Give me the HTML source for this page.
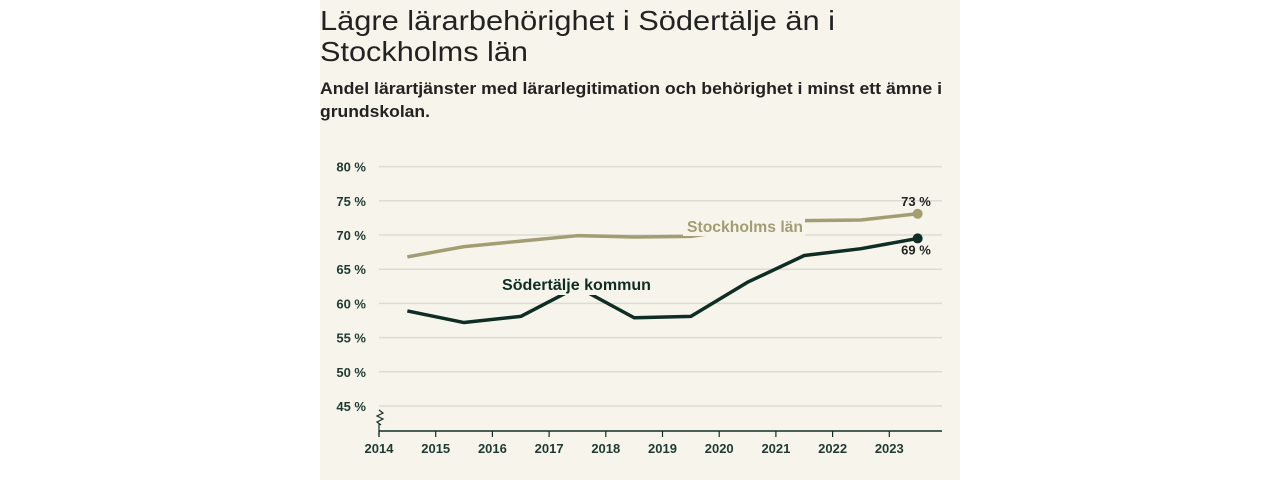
<!DOCTYPE html>
<html><head><meta charset="utf-8">
<style>
body{margin:0;background:#fff;width:1280px;height:480px;overflow:hidden}
svg{display:block}
text{font-family:"Liberation Sans",sans-serif}
</style></head>
<body>
<svg width="1280" height="480">
<rect x="320" y="0" width="640" height="480" fill="#f7f5eb"/>
<text x="320" y="30" font-size="28" fill="#222" textLength="515" lengthAdjust="spacingAndGlyphs">Lägre lärarbehörighet i Södertälje än i</text>
<text x="320" y="61" font-size="28" fill="#222" textLength="208" lengthAdjust="spacingAndGlyphs">Stockholms län</text>
<text x="320" y="94" font-size="17" font-weight="bold" fill="#222" textLength="622" lengthAdjust="spacingAndGlyphs">Andel lärartjänster med lärarlegitimation och behörighet i minst ett ämne i</text>
<text x="320" y="117" font-size="17" font-weight="bold" fill="#222" textLength="110" lengthAdjust="spacingAndGlyphs">grundskolan.</text>
<g id="plot"></g>
</svg>
<script>
const years=[2014,2015,2016,2017,2018,2019,2020,2021,2022,2023];
const yTicks=[45,50,55,60,65,70,75,80];
const stockholm=[66.8,68.3,69.1,69.9,69.7,69.8,71.0,72.1,72.2,73.1];
const sodertalje=[58.9,57.2,58.1,62.4,57.9,58.1,63.1,67.0,68.0,69.5];
const NS='http://www.w3.org/2000/svg';
const g=document.getElementById('plot');
const X=v=>379+(v-2014)*56.7;
const Y=v=>235-(v-70)*6.84;
function mk(t,a,p){const e=document.createElementNS(NS,t);for(const k in a)e.setAttribute(k,a[k]);(p||g).appendChild(e);return e;}
yTicks.forEach(v=>{
  const l=mk('line',{x1:379,x2:942,y1:Y(v),y2:Y(v),stroke:'#dddcd4','stroke-width':1.5});
  
  
  const t=mk('text',{x:366,y:Y(v)+5,'text-anchor':'end','font-size':13,'font-weight':'bold',fill:'#1e3a33'});
  t.textContent=v+' %';
  
  
});
const ax=mk('line',{x1:379,x2:942,y1:431,y2:431,stroke:'#0e2e25','stroke-width':1.5});


const br=mk('polyline',{points:'379,410 383,413 377,416 383,419 377,422 381,425',fill:'none',stroke:'#0e2e25','stroke-width':1.2});


mk('line',{x1:379,x2:379,y1:424,y2:437,stroke:'#0e2e25','stroke-width':1.2});
years.forEach(y=>{
  const tk=mk('line',{x1:X(y),x2:X(y),y1:431,y2:437,stroke:'#0e2e25','stroke-width':1.2});
  
  
  const t=mk('text',{x:X(y),y:453,'text-anchor':'middle','font-size':13,'font-weight':'bold',fill:'#1e3a33'});
  t.textContent=y;
  
  
});
function series(vals,col,name){
  const pts=vals.map((v,i)=>X(years[i]+0.5)+','+Y(v)).join(' ');
  const p=mk('polyline',{points:pts,fill:'none',stroke:col,'stroke-width':3.5,'stroke-linejoin':'round'});
  
  
  const n=vals.length-1;
  const c=mk('circle',{cx:X(years[n]+0.5),cy:Y(vals[n]),r:5,fill:col});
  
  
}
series(stockholm,'#a39d74','stockholm');
series(sodertalje,'#0e2e25','sodertalje');
// labels with background masks
mk('rect',{x:683,y:214,width:122,height:22,fill:'#f7f5eb'});
const ls=mk('text',{x:687,y:232,'font-size':16,'font-weight':'bold',fill:'#a39d74',textLength:116,lengthAdjust:'spacingAndGlyphs'});
ls.textContent='Stockholms län';


mk('rect',{x:498,y:273,width:156,height:22,fill:'#f7f5eb'});
const ld=mk('text',{x:502,y:290,'font-size':16,'font-weight':'bold',fill:'#0e2e25',textLength:149,lengthAdjust:'spacingAndGlyphs'});
ld.textContent='Södertälje kommun';


const n=stockholm.length-1;
const v1=mk('text',{x:916,y:Y(stockholm[n])-8,'text-anchor':'middle','font-size':13,'font-weight':'bold',fill:'#222'});
v1.textContent=Math.round(stockholm[n])+' %';


const v2=mk('text',{x:916,y:Y(sodertalje[n])+16,'text-anchor':'middle','font-size':13,'font-weight':'bold',fill:'#222'});
v2.textContent=Math.floor(sodertalje[n])+' %';


</script>
</body></html>
